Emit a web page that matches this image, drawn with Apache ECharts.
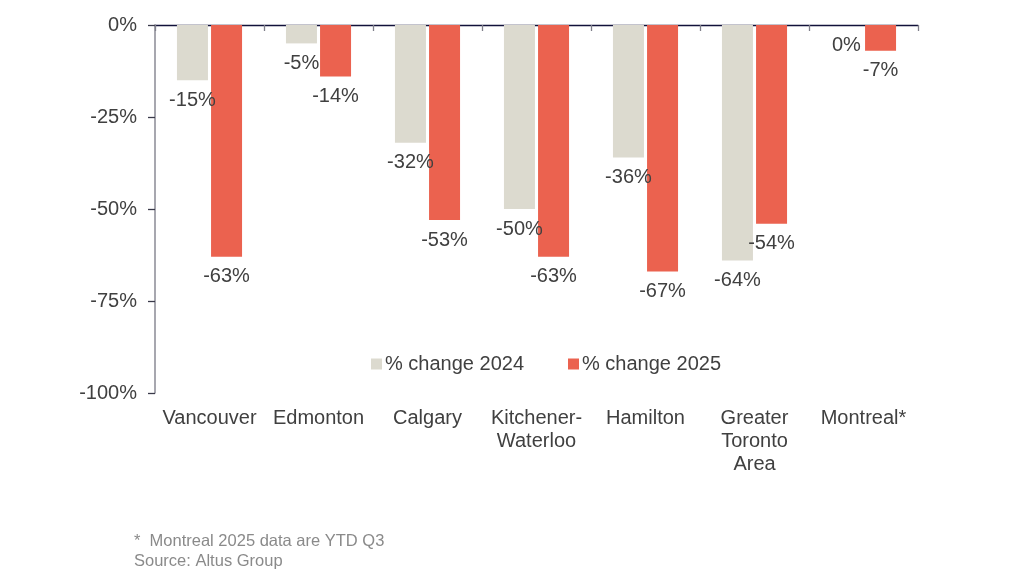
<!DOCTYPE html>
<html>
<head>
<meta charset="utf-8">
<script src="https://cdn.jsdelivr.net/npm/echarts@6/dist/echarts.min.js"></script>
<style>
html,body{margin:0;padding:0;background:#fff;}
#chart{width:1020px;height:583px;}
</style>
</head>
<body>
<div id="chart"></div>
<script>
const categories = ['Vancouver', 'Edmonton', 'Calgary', 'Kitchener-\nWaterloo', 'Hamilton', 'Greater\nToronto\nArea', 'Montreal*'];
const change2024 = [-15, -5, -32, -50, -36, -64, 0];
const change2025 = [-63, -14, -53, -63, -67, -54, -7];
const yTicks = [-100, -75, -50, -25, 0];
const seriesNames = ['% change 2024', '% change 2025'];
const footnotes = ['*  Montreal 2025 data are YTD Q3', 'Source: Altus Group'];

const FONT = '"Liberation Sans", Arial, sans-serif';
const TXT = '#404040';

const chart = echarts.init(document.getElementById('chart'));
const labelCfg = {
  show: true,
  position: 'bottom',
  distance: 10,
  color: TXT,
  fontSize: 20,
  fontFamily: FONT,
  formatter: p => Math.round(p.value) + '%'
};
chart.setOption({
  animation: false,
  textStyle: { fontFamily: FONT },
  grid: { left: 155, right: 102, top: 25, bottom: 190, containLabel: false },
  legend: {
    data: seriesNames,
    left: 366, top: 349,
    itemWidth: 11, itemHeight: 11, itemGap: 44,
    icon: 'rect',
    textStyle: { color: TXT, fontSize: 20, fontFamily: FONT, padding: [0, 0, 0, -2] }
  },
  xAxis: [
    {
      type: 'category', data: categories, position: 'top',
      axisLine: { show: true, onZero: false, lineStyle: { color: '#12123a', width: 1.3 } },
      axisTick: { show: true, inside: true, length: 6, lineStyle: { color: '#7f7f8a', width: 1.3 } },
      axisLabel: { show: false }, splitLine: { show: false }
    },
    {
      type: 'category', data: categories, position: 'bottom',
      axisLine: { show: false }, axisTick: { show: false },
      axisLabel: { show: true, color: TXT, fontSize: 20, fontFamily: FONT, margin: 14, lineHeight: 23, interval: 0 },
      splitLine: { show: false }
    }
  ],
  yAxis: {
    type: 'value', min: yTicks[0], max: yTicks[yTicks.length - 1], interval: 25,
    axisLine: { show: true, lineStyle: { color: '#8a8a94', width: 1.5 } },
    axisTick: { show: true, length: 7, lineStyle: { color: '#3a3a4a', width: 1.3 } },
    axisLabel: { color: TXT, fontSize: 20, fontFamily: FONT, margin: 18, formatter: '{value}%' },
    splitLine: { show: false }
  },
  series: [
    {
      name: seriesNames[0], type: 'bar', xAxisIndex: 0, data: change2024,
      barWidth: 31, barGap: '10%',
      itemStyle: { color: '#DCDACF' },
      label: labelCfg
    },
    {
      name: seriesNames[1], type: 'bar', xAxisIndex: 0, data: change2025,
      barWidth: 31, barGap: '10%',
      itemStyle: { color: '#EB624F' },
      label: labelCfg
    }
  ],
  graphic: [
    { type: 'text', left: 134, top: 533, style: { text: footnotes[0], fill: '#8a8a8a', fontSize: 16.5, fontFamily: FONT } },
    { type: 'text', left: 134, top: 553, style: { text: footnotes[1], fill: '#8a8a8a', fontSize: 16.5, fontFamily: FONT } }
  ]
});
</script>
</body>
</html>
